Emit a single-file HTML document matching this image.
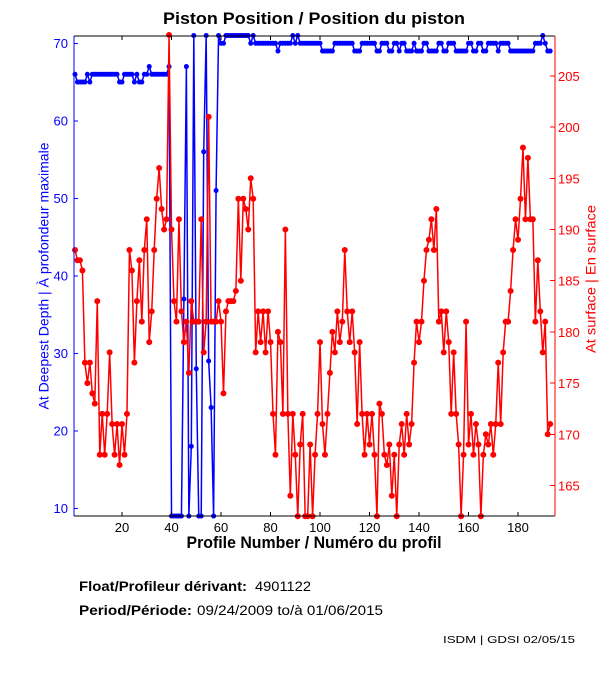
<!DOCTYPE html>
<html><head><meta charset="utf-8"><style>
html,body{margin:0;padding:0;background:#fff;}
svg{display:block;font-family:"Liberation Sans",Arial,sans-serif;}
</style></head><body>
<svg width="611" height="675" viewBox="0 0 611 675" xmlns="http://www.w3.org/2000/svg">
<rect width="611" height="675" fill="#fff"/>
<text x="314" y="24" text-anchor="middle" font-size="17" font-weight="bold" textLength="302" lengthAdjust="spacingAndGlyphs">Piston Position / Position du piston</text>

<!-- blue series -->
<g transform="matrix(2.475 0 0 -7.75 72.525 585.8)" fill="none" stroke="#0000ff">
<polyline vector-effect="non-scaling-stroke" stroke-width="1.5" stroke-linejoin="round" points="1,66 2,65 3,65 4,65 5,65 6,66 7,65 8,66 9,66 10,66 11,66 12,66 13,66 14,66 15,66 16,66 17,66 18,66 19,65 20,65 21,66 22,66 23,66 24,66 25,65 26,66 27,65 28,65 29,66 30,66 31,67 32,66 33,66 34,66 35,66 36,66 37,66 38,66 39,67 40,9 41,9 42,9 43,9 44,9 45,37 46,67 47,9 48,18 49,71 50,28 51,9 52,9 53,56 54,71 55,29 56,23 57,9 58,51 59,71 60,70 61,70 62,71 63,71 64,71 65,71 66,71 67,71 68,71 69,71 70,71 71,71 72,70 73,71 74,70 75,70 76,70 77,70 78,70 79,70 80,70 81,70 82,70 83,69 84,70 85,70 86,70 87,70 88,70 89,71 90,70 91,71 92,70 93,70 94,70 95,70 96,70 97,70 98,70 99,70 100,70 101,69 102,69 103,69 104,69 105,69 106,70 107,70 108,70 109,70 110,70 111,70 112,70 113,70 114,69 115,69 116,69 117,70 118,70 119,70 120,70 121,70 122,70 123,69 124,69 125,70 126,70 127,70 128,69 129,69 130,70 131,70 132,69 133,70 134,70 135,69 136,69 137,69 138,70 139,69 140,69 141,69 142,70 143,70 144,69 145,69 146,69 147,69 148,70 149,70 150,69 151,69 152,70 153,70 154,70 155,69 156,69 157,69 158,69 159,69 160,70 161,70 162,69 163,69 164,70 165,70 166,69 167,69 168,70 169,70 170,70 171,70 172,69 173,70 174,70 175,70 176,70 177,69 178,69 179,69 180,69 181,69 182,69 183,69 184,69 185,69 186,69 187,70 188,70 189,70 190,71 191,70 192,69 193,69"/>
<path vector-effect="non-scaling-stroke" stroke-width="5" stroke-linecap="round" d="M1 66h0M2 65h0M3 65h0M4 65h0M5 65h0M6 66h0M7 65h0M8 66h0M9 66h0M10 66h0M11 66h0M12 66h0M13 66h0M14 66h0M15 66h0M16 66h0M17 66h0M18 66h0M19 65h0M20 65h0M21 66h0M22 66h0M23 66h0M24 66h0M25 65h0M26 66h0M27 65h0M28 65h0M29 66h0M30 66h0M31 67h0M32 66h0M33 66h0M34 66h0M35 66h0M36 66h0M37 66h0M38 66h0M39 67h0M40 9h0M41 9h0M42 9h0M43 9h0M44 9h0M45 37h0M46 67h0M47 9h0M48 18h0M49 71h0M50 28h0M51 9h0M52 9h0M53 56h0M54 71h0M55 29h0M56 23h0M57 9h0M58 51h0M59 71h0M60 70h0M61 70h0M62 71h0M63 71h0M64 71h0M65 71h0M66 71h0M67 71h0M68 71h0M69 71h0M70 71h0M71 71h0M72 70h0M73 71h0M74 70h0M75 70h0M76 70h0M77 70h0M78 70h0M79 70h0M80 70h0M81 70h0M82 70h0M83 69h0M84 70h0M85 70h0M86 70h0M87 70h0M88 70h0M89 71h0M90 70h0M91 71h0M92 70h0M93 70h0M94 70h0M95 70h0M96 70h0M97 70h0M98 70h0M99 70h0M100 70h0M101 69h0M102 69h0M103 69h0M104 69h0M105 69h0M106 70h0M107 70h0M108 70h0M109 70h0M110 70h0M111 70h0M112 70h0M113 70h0M114 69h0M115 69h0M116 69h0M117 70h0M118 70h0M119 70h0M120 70h0M121 70h0M122 70h0M123 69h0M124 69h0M125 70h0M126 70h0M127 70h0M128 69h0M129 69h0M130 70h0M131 70h0M132 69h0M133 70h0M134 70h0M135 69h0M136 69h0M137 69h0M138 70h0M139 69h0M140 69h0M141 69h0M142 70h0M143 70h0M144 69h0M145 69h0M146 69h0M147 69h0M148 70h0M149 70h0M150 69h0M151 69h0M152 70h0M153 70h0M154 70h0M155 69h0M156 69h0M157 69h0M158 69h0M159 69h0M160 70h0M161 70h0M162 69h0M163 69h0M164 70h0M165 70h0M166 69h0M167 69h0M168 70h0M169 70h0M170 70h0M171 70h0M172 69h0M173 70h0M174 70h0M175 70h0M176 70h0M177 69h0M178 69h0M179 69h0M180 69h0M181 69h0M182 69h0M183 69h0M184 69h0M185 69h0M186 69h0M187 70h0M188 70h0M189 70h0M190 71h0M191 70h0M192 69h0M193 69h0"/>
</g>

<!-- red series -->
<g transform="matrix(2.475 0 0 -10.24 72.525 2175.1)" fill="none" stroke="#ff0000">
<polyline vector-effect="non-scaling-stroke" stroke-width="1.5" stroke-linejoin="round" points="1,188 2,187 3,187 4,186 5,177 6,175 7,177 8,174 9,173 10,183 11,168 12,172 13,168 14,172 15,178 16,171 17,168 18,171 19,167 20,171 21,168 22,172 23,188 24,186 25,177 26,183 27,187 28,181 29,188 30,191 31,179 32,182 33,188 34,193 35,196 36,192 37,190 38,191 39,209 40,190 41,183 42,181 43,191 44,182 45,179 46,181 47,176 48,183 49,181 50,181 51,181 52,191 53,178 54,181 55,201 56,181 57,181 58,181 59,183 60,181 61,174 62,182 63,183 64,183 65,183 66,184 67,193 68,185 69,193 70,192 71,190 72,195 73,193 74,178 75,182 76,179 77,182 78,178 79,182 80,179 81,172 82,168 83,180 84,179 85,172 86,190 87,172 88,164 89,172 90,168 91,162 92,169 93,172 94,162 95,162 96,169 97,162 98,168 99,172 100,179 101,171 102,168 103,172 104,176 105,180 106,178 107,182 108,179 109,181 110,188 111,182 112,179 113,182 114,178 115,171 116,179 117,172 118,168 119,172 120,169 121,172 122,168 123,162 124,173 125,172 126,168 127,167 128,169 129,164 130,168 131,162 132,169 133,171 134,168 135,172 136,169 137,171 138,177 139,181 140,179 141,181 142,185 143,188 144,189 145,191 146,188 147,192 148,181 149,182 150,178 151,182 152,179 153,172 154,178 155,172 156,169 157,162 158,168 159,181 160,169 161,172 162,168 163,171 164,169 165,162 166,168 167,170 168,169 169,171 170,168 171,171 172,177 173,171 174,178 175,181 176,181 177,184 178,188 179,191 180,189 181,193 182,198 183,191 184,197 185,191 186,191 187,181 188,187 189,182 190,178 191,181 192,170 193,171"/>
<path vector-effect="non-scaling-stroke" stroke-width="6" stroke-linecap="round" d="M1 188h0M2 187h0M3 187h0M4 186h0M5 177h0M6 175h0M7 177h0M8 174h0M9 173h0M10 183h0M11 168h0M12 172h0M13 168h0M14 172h0M15 178h0M16 171h0M17 168h0M18 171h0M19 167h0M20 171h0M21 168h0M22 172h0M23 188h0M24 186h0M25 177h0M26 183h0M27 187h0M28 181h0M29 188h0M30 191h0M31 179h0M32 182h0M33 188h0M34 193h0M35 196h0M36 192h0M37 190h0M38 191h0M39 209h0M40 190h0M41 183h0M42 181h0M43 191h0M44 182h0M45 179h0M46 181h0M47 176h0M48 183h0M49 181h0M50 181h0M51 181h0M52 191h0M53 178h0M54 181h0M55 201h0M56 181h0M57 181h0M58 181h0M59 183h0M60 181h0M61 174h0M62 182h0M63 183h0M64 183h0M65 183h0M66 184h0M67 193h0M68 185h0M69 193h0M70 192h0M71 190h0M72 195h0M73 193h0M74 178h0M75 182h0M76 179h0M77 182h0M78 178h0M79 182h0M80 179h0M81 172h0M82 168h0M83 180h0M84 179h0M85 172h0M86 190h0M87 172h0M88 164h0M89 172h0M90 168h0M91 162h0M92 169h0M93 172h0M94 162h0M95 162h0M96 169h0M97 162h0M98 168h0M99 172h0M100 179h0M101 171h0M102 168h0M103 172h0M104 176h0M105 180h0M106 178h0M107 182h0M108 179h0M109 181h0M110 188h0M111 182h0M112 179h0M113 182h0M114 178h0M115 171h0M116 179h0M117 172h0M118 168h0M119 172h0M120 169h0M121 172h0M122 168h0M123 162h0M124 173h0M125 172h0M126 168h0M127 167h0M128 169h0M129 164h0M130 168h0M131 162h0M132 169h0M133 171h0M134 168h0M135 172h0M136 169h0M137 171h0M138 177h0M139 181h0M140 179h0M141 181h0M142 185h0M143 188h0M144 189h0M145 191h0M146 188h0M147 192h0M148 181h0M149 182h0M150 178h0M151 182h0M152 179h0M153 172h0M154 178h0M155 172h0M156 169h0M157 162h0M158 168h0M159 181h0M160 169h0M161 172h0M162 168h0M163 171h0M164 169h0M165 162h0M166 168h0M167 170h0M168 169h0M169 171h0M170 168h0M171 171h0M172 177h0M173 171h0M174 178h0M175 181h0M176 181h0M177 184h0M178 188h0M179 191h0M180 189h0M181 193h0M182 198h0M183 191h0M184 197h0M185 191h0M186 191h0M187 181h0M188 187h0M189 182h0M190 178h0M191 181h0M192 170h0M193 171h0"/>
</g>

<!-- axes -->
<g stroke-width="1.2" shape-rendering="crispEdges">
<line x1="74" y1="36" x2="555" y2="36" stroke="#000"/>
<line x1="74" y1="516" x2="555" y2="516" stroke="#000"/>
<line x1="74" y1="36" x2="74" y2="516" stroke="#0000ff"/>
<line x1="555" y1="36" x2="555" y2="516" stroke="#ff0000"/>
</g>
<!-- x ticks -->
<g stroke="#000" stroke-width="1" shape-rendering="crispEdges">
<path d="M122 516v-4M171.5 516v-4M221 516v-4M270.5 516v-4M320 516v-4M369.5 516v-4M419 516v-4M468.5 516v-4M518 516v-4"/>
<path d="M122 36v4M171.5 36v4M221 36v4M270.5 36v4M320 36v4M369.5 36v4M419 36v4M468.5 36v4M518 36v4"/>
</g>
<g font-size="13" text-anchor="middle" fill="#000">
<text x="122" y="532">20</text><text x="171.5" y="532">40</text><text x="221" y="532">60</text><text x="270.5" y="532">80</text><text x="320" y="532">100</text><text x="369.5" y="532">120</text><text x="419" y="532">140</text><text x="468.5" y="532">160</text><text x="518" y="532">180</text>
</g>
<!-- left ticks -->
<g stroke="#0000ff" stroke-width="1" shape-rendering="crispEdges">
<path d="M74 508.3h4M74 430.8h4M74 353.3h4M74 275.8h4M74 198.3h4M74 120.8h4M74 43.3h4"/>
</g>
<g font-size="13" text-anchor="end" fill="#0000ff">
<text x="68" y="513.1">10</text><text x="68" y="435.6">20</text><text x="68" y="358.1">30</text><text x="68" y="280.6">40</text><text x="68" y="203.1">50</text><text x="68" y="125.6">60</text><text x="68" y="48.1">70</text>
</g>
<!-- right ticks -->
<g stroke="#ff0000" stroke-width="1" shape-rendering="crispEdges">
<path d="M555 485.5h-5M555 434.3h-5M555 383.1h-5M555 331.9h-5M555 280.7h-5M555 229.5h-5M555 178.3h-5M555 127.1h-5M555 75.9h-5"/>
</g>
<g font-size="13" fill="#ff0000">
<text x="558" y="490.5">165</text><text x="558" y="439.3">170</text><text x="558" y="388.1">175</text><text x="558" y="336.9">180</text><text x="558" y="285.7">185</text><text x="558" y="234.5">190</text><text x="558" y="183.3">195</text><text x="558" y="132.1">200</text><text x="558" y="80.9">205</text>
</g>

<text x="314" y="548" text-anchor="middle" font-size="17" font-weight="bold" textLength="255" lengthAdjust="spacingAndGlyphs">Profile Number / Numéro du profil</text>
<text transform="translate(48.3,276) rotate(-90)" text-anchor="middle" font-size="13.5" fill="#0000ff" textLength="267" lengthAdjust="spacingAndGlyphs">At Deepest Depth | À profondeur maximale</text>
<text transform="translate(595.5,279) rotate(-90)" text-anchor="middle" font-size="13.5" fill="#ff0000" textLength="148" lengthAdjust="spacingAndGlyphs">At surface | En surface</text>

<g font-size="13.5" fill="#000">
<text x="79" y="591" font-weight="bold" textLength="168" lengthAdjust="spacingAndGlyphs">Float/Profileur dérivant:</text>
<text x="255" y="591" textLength="56" lengthAdjust="spacingAndGlyphs">4901122</text>
<text x="79" y="615" font-weight="bold" textLength="113" lengthAdjust="spacingAndGlyphs">Period/Période:</text>
<text x="197" y="615" textLength="186" lengthAdjust="spacingAndGlyphs">09/24/2009  to/à  01/06/2015</text>
</g>
<text x="443" y="643" font-size="10.5" fill="#000" textLength="132" lengthAdjust="spacingAndGlyphs">ISDM | GDSI 02/05/15</text>
</svg>
</body></html>
